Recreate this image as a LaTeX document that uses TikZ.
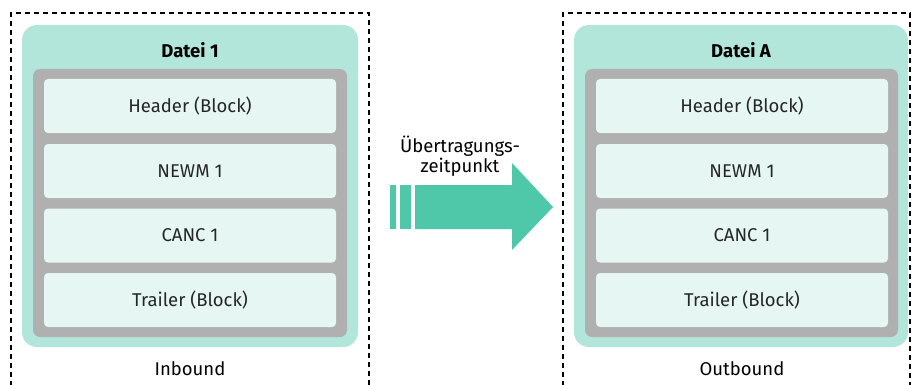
\documentclass[tikz,border=0pt]{standalone}
\usepackage{fontspec}
\setmainfont{Fira Sans}
\definecolor{tealbg}{HTML}{B3E6DA}
\definecolor{rowbg}{HTML}{E6F7F3}
\definecolor{graybg}{HTML}{B0B0B0}
\definecolor{arrowc}{HTML}{4FC8AA}
\tikzset{
  frame/.style={draw=black, line width=1.4pt, dash pattern=on 5pt off 4pt},
  filebox/.style={fill=tealbg, rounded corners=15pt, draw=none},
  graybox/.style={fill=graybg, rounded corners=7pt, draw=none},
  rowbox/.style={fill=rowbg, rounded corners=4pt, draw=none, minimum width=292pt, minimum height=54pt, inner sep=0pt, font=\fontsize{18.5}{21}\selectfont, text=black!85},
  title/.style={font=\fontsize{18.5}{21}\selectfont\bfseries},
  caption/.style={font=\fontsize{18.5}{21}\selectfont},
}
\begin{document}
\begin{tikzpicture}[x=1pt,y=-1pt]
\useasboundingbox (0,0) rectangle (912,385);
% dashed frames
\draw[frame] (11,386) -- (11,13) -- (369,13) -- (369,386);
\draw[frame] (563,386) -- (563,13) -- (910,13) -- (910,386);
% left file
\fill[filebox] (22,25) rectangle (358,347);
\fill[graybox] (33,69) rectangle (347,337);
\node[title] (t1) at (190,50) {Datei 1};
\node[rowbox] (h1) at (190,106) {Header (Block)};
\node[rowbox] (n1) at (190,171) {NEWM 1};
\node[rowbox] (c1) at (190,235.5) {CANC 1};
\node[rowbox] (r1) at (190,300) {Trailer (Block)};
\node[caption] (in) at (190,369) {Inbound};
% right file
\fill[filebox] (574,25) rectangle (908,347);
\fill[graybox] (585,69) rectangle (898,337);
\node[title] (t2) at (741,50) {Datei A};
\node[rowbox] (h2) at (742,106) {Header (Block)};
\node[rowbox] (n2) at (742,171) {NEWM 1};
\node[rowbox] (c2) at (742,235.5) {CANC 1};
\node[rowbox] (r2) at (742,300) {Trailer (Block)};
\node[caption] (out) at (742,369) {Outbound};
% arrow
\fill[arrowc] (390,185) rectangle (396,229);
\fill[arrowc] (400,185) rectangle (411,229);
\fill[arrowc] (415,185) -- (512,185) -- (512,163) -- (553,207) -- (512,250) -- (512,229) -- (415,229) -- cycle;
\node[caption, align=center, inner sep=0pt] (lbl) at (460,156) {Übertragungs-\\[-1pt]zeitpunkt};
\end{tikzpicture}
\end{document}
